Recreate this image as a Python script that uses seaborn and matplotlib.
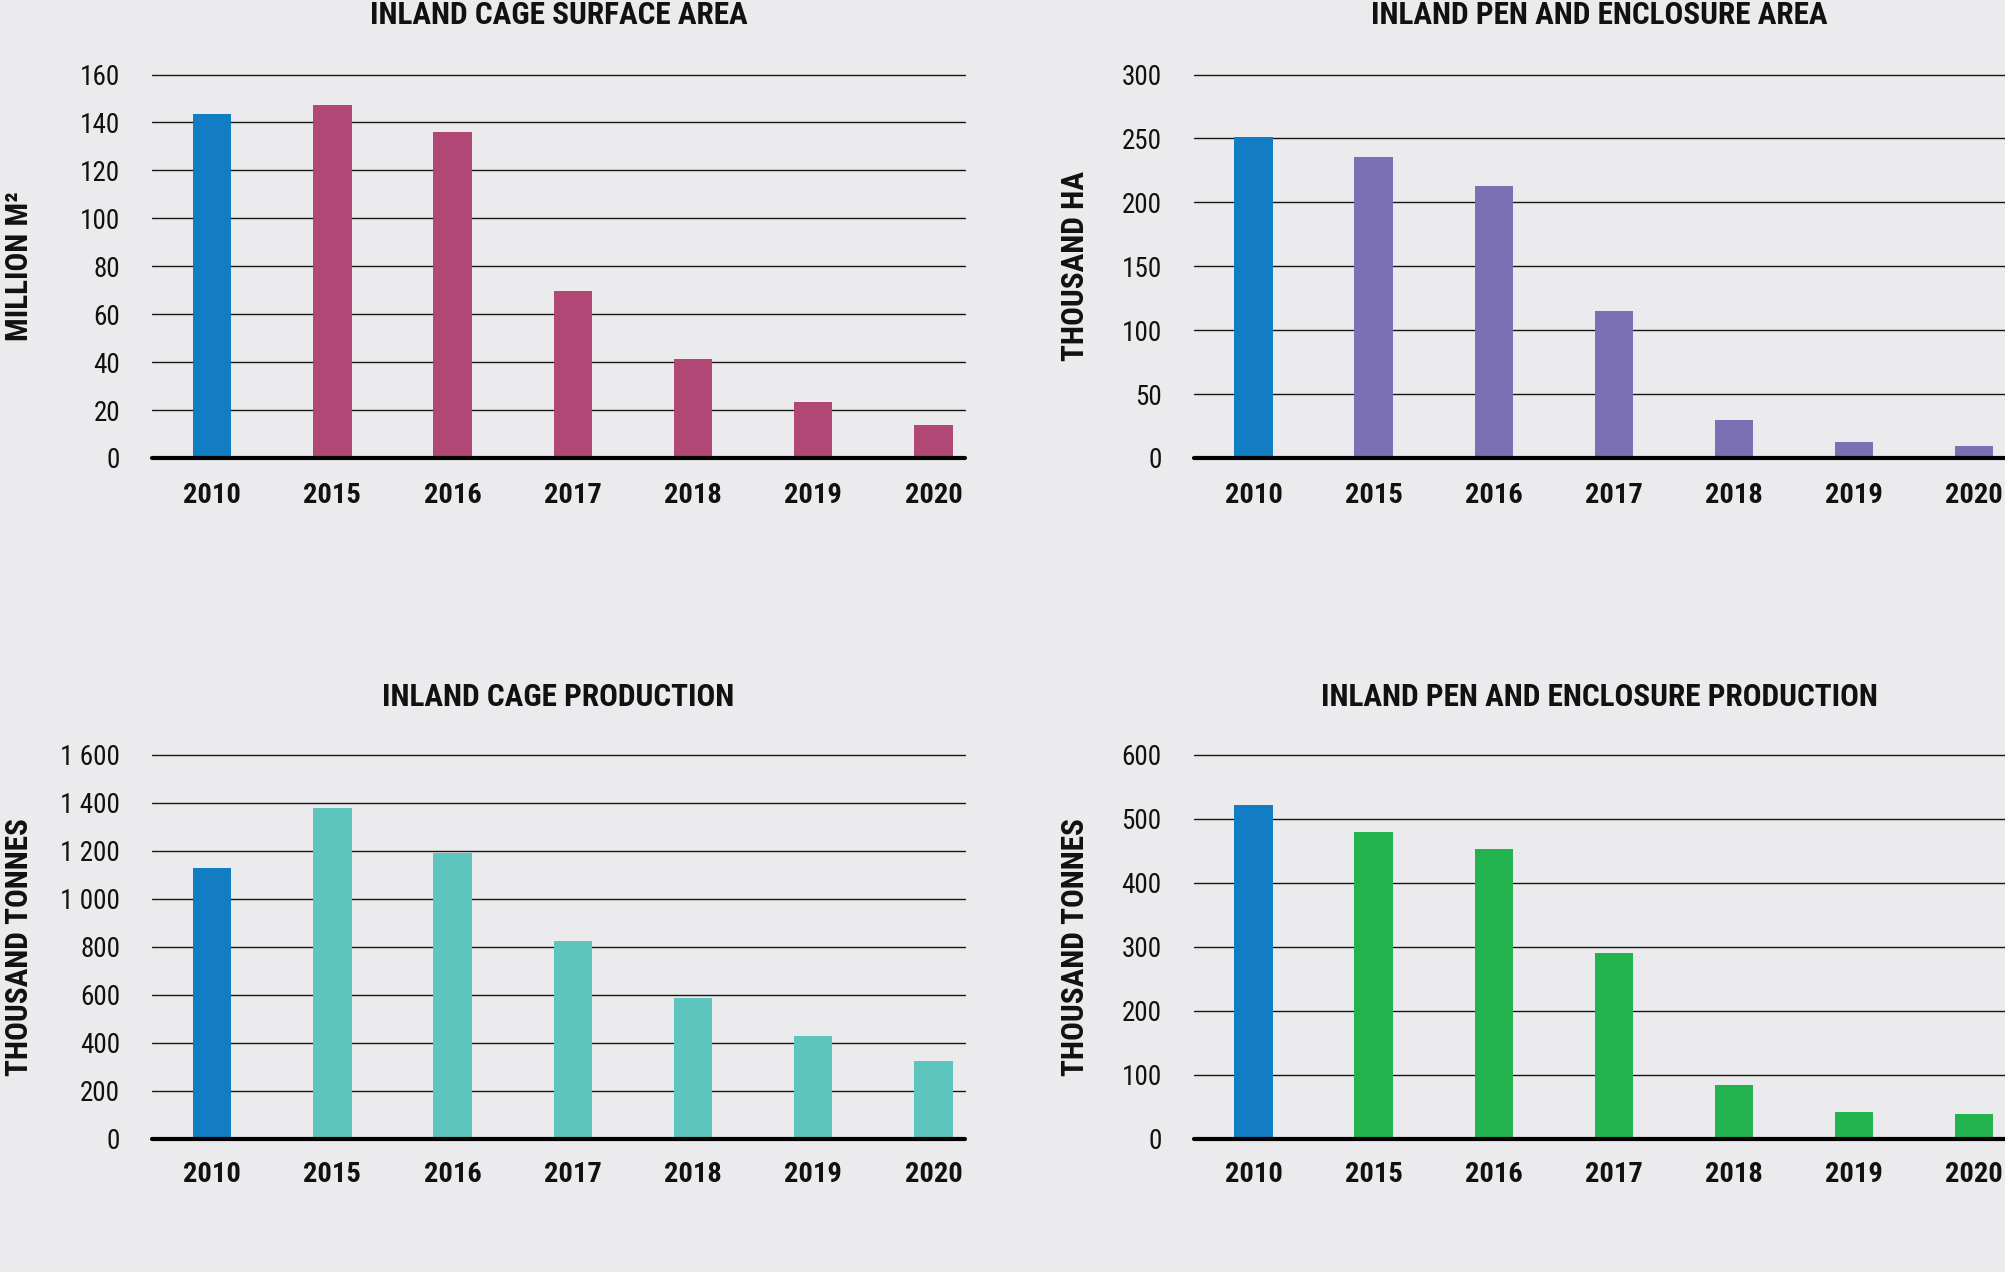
import matplotlib
matplotlib.use("Agg")
import matplotlib.pyplot as plt
from matplotlib import font_manager as fm
import seaborn as sns
import pandas as pd

# ---------------- data ----------------
years = ["2010", "2015", "2016", "2017", "2018", "2019", "2020"]

cage_area = [143.6, 147.2, 136.0, 69.6, 41.5, 23.4, 13.7]        # million m2
pen_area = [251.0, 235.8, 212.6, 114.7, 29.9, 12.8, 9.2]          # thousand ha
cage_prod = [1130, 1377, 1192, 823, 587, 429, 322]                # thousand tonnes
pen_prod = [522, 480, 453, 290, 84, 41.5, 38]                     # thousand tonnes

titles = ["INLAND CAGE SURFACE AREA", "INLAND PEN AND ENCLOSURE AREA",
          "INLAND CAGE PRODUCTION", "INLAND PEN AND ENCLOSURE PRODUCTION"]
ylabels = ["MILLION M²", "THOUSAND HA", "THOUSAND TONNES", "THOUSAND TONNES"]

ticks_cage_area = [0, 20, 40, 60, 80, 100, 120, 140, 160]
ticks_pen_area = [0, 50, 100, 150, 200, 250, 300]
ticks_cage_prod = [0, 200, 400, 600, 800, 1000, 1200, 1400, 1600]
ticks_pen_prod = [0, 100, 200, 300, 400, 500, 600]
ticklabels_cage_prod = ["0", "200", "400", "600", "800", "1 000", "1 200", "1 400", "1 600"]

first_color = "#137DC3"
series_colors = ["#B04775", "#7B70B4", "#5DC4BE", "#22B24E"]

# ---------------- style ----------------
BG = "#EBEBED"
sns.set_style("white", {"axes.facecolor": BG, "figure.facecolor": BG})

available = {f.name for f in fm.fontManager.ttflist}
def pick(cands):
    for c in cands:
        if c in available:
            return c
    return "DejaVu Sans"

cond = pick(["Roboto Condensed", "IBM Plex Sans Condensed", "Open Sans Condensed", "DejaVu Sans"])
label_font = pick(["Liberation Sans Narrow", "Roboto Condensed", "Arimo", "DejaVu Sans"])
plt.rcParams["font.family"] = [cond, "DejaVu Sans"]

fig = plt.figure(figsize=(20.06, 12.72), dpi=100)
fig.patch.set_facecolor(BG)

W, H = 2006.0, 1272.0
top_y0, top_y1 = 74.5, 458.0
bot_y0, bot_y1 = 755.0, 1138.5
positions = [
    (152 / W, 1 - top_y1 / H, 813 / W, (top_y1 - top_y0) / H),
    (1193.6 / W, 1 - top_y1 / H, 812 / W, (top_y1 - top_y0) / H),
    (152 / W, 1 - bot_y1 / H, 813 / W, (bot_y1 - bot_y0) / H),
    (1193.6 / W, 1 - bot_y1 / H, 812 / W, (bot_y1 - bot_y0) / H),
]
values = [cage_area, pen_area, cage_prod, pen_prod]
ticks = [ticks_cage_area, ticks_pen_area, ticks_cage_prod, ticks_pen_prod]
ticklabels = [[str(t) for t in ticks_cage_area], [str(t) for t in ticks_pen_area],
              ticklabels_cage_prod, [str(t) for t in ticks_pen_prod]]
title_pads = [36.5, 36.5, 35.5, 35.5]
xpads = [17.5, 17.5, 16.5, 16.5]
label_x = [-0.163, -0.146, -0.163, -0.146]

for i in range(4):
    ax = fig.add_axes(positions[i])
    ax.set_facecolor(BG)
    df = pd.DataFrame({"year": years, "value": values[i]})
    pal = {y: (first_color if j == 0 else series_colors[i]) for j, y in enumerate(years)}
    sns.barplot(data=df, x="year", y="value", hue="year", palette=pal, legend=False,
                width=0.32, saturation=1, ax=ax, zorder=3, edgecolor="none", linewidth=0)
    ax.set_xlim(-0.5, 6.263)
    ax.set_ylim(0, ticks[i][-1])
    ax.set_yticks(ticks[i])
    ax.set_yticklabels(ticklabels[i])
    ax.grid(axis="y", color="#151515", linewidth=1.0, zorder=0)
    ax.grid(axis="x", visible=False)
    ax.set_axisbelow(True)
    for g in ax.get_ygridlines():
        g.set_clip_on(False)
    ax.axhline(0, color="#000000", linewidth=3.0, zorder=5, clip_on=False)
    for s in ax.spines.values():
        s.set_visible(False)
    ax.tick_params(axis="y", length=0, pad=23, labelsize=19.5, labelcolor="#111111")
    ax.tick_params(axis="x", length=0, pad=xpads[i], labelsize=20.5, labelcolor="#111111")
    for lab in ax.get_xticklabels():
        lab.set_fontweight("bold")
    ax.set_xlabel("")
    ax.set_ylabel(ylabels[i], fontsize=22.5, fontweight="bold", family=[label_font, "DejaVu Sans"],
                  color="#111111", va="center")
    ax.yaxis.set_label_coords(label_x[i], 0.5)
    ax.set_title(titles[i], fontsize=22.5, fontweight="bold", color="#111111", pad=title_pads[i])

fig.savefig("out.png", dpi=100, facecolor=BG)
